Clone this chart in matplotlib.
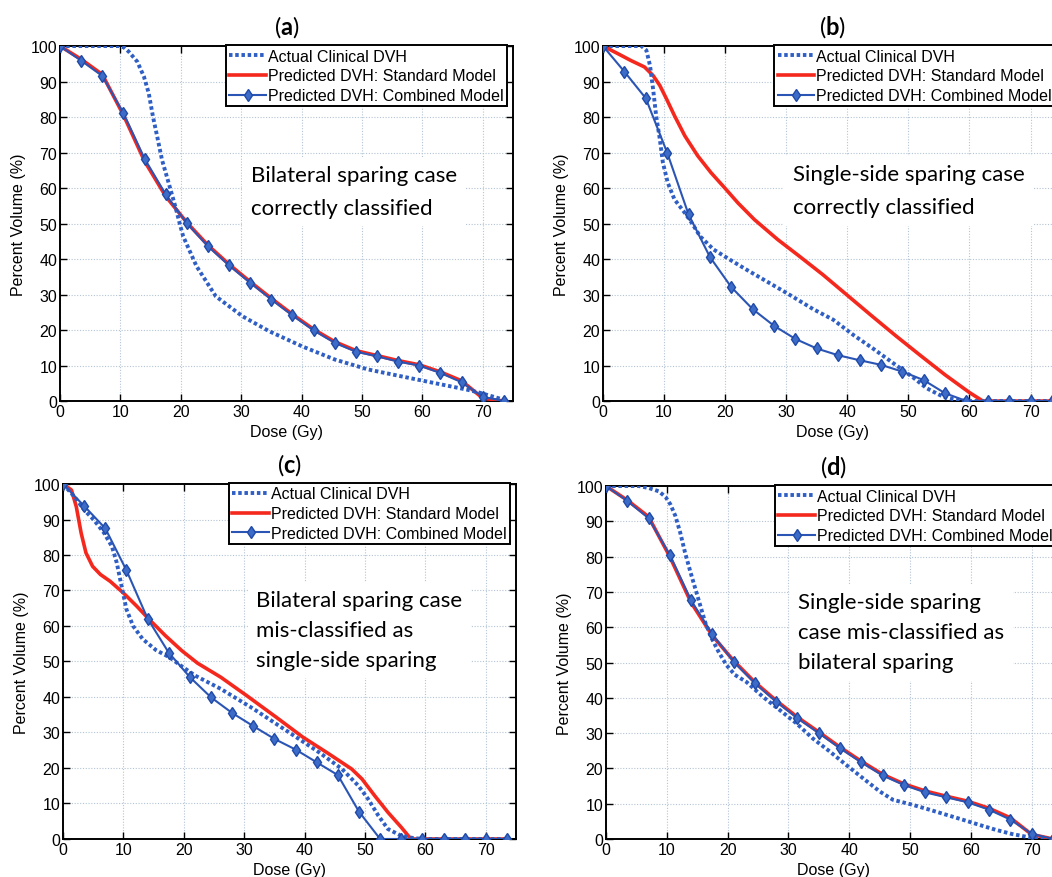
import matplotlib
matplotlib.use("Agg")
import matplotlib.pyplot as plt

plt.rcParams['font.family'] = ['Liberation Sans', 'DejaVu Sans']
plt.rcParams['mathtext.fontset'] = 'custom'
plt.rcParams['mathtext.rm'] = 'Lato'
plt.rcParams['mathtext.bf'] = 'Lato:bold'

# dose grid of the combined-model markers (Gy)
marker_dose = [0, 3.5, 7, 10.5, 14, 17.5, 21, 24.5, 28, 31.5, 35, 38.5,
               42, 45.5, 49, 52.5, 56, 59.5, 63, 66.5, 70, 73.5]

# ---- panel (a)
a_actual_dose = [0, 9.8, 10.6, 11.4, 12.8, 13.9, 14.7, 15.4, 16.1, 16.9, 18.0, 19.1, 19.9,
                 20.4, 22.6, 25.8, 30.2, 34.6, 40.1, 45.5, 51.0, 56.4, 61.9, 67.4, 69.6, 73.4]
a_actual = [100, 100, 99.6, 98.4, 95.6, 91.4, 86.7, 80.1, 74.5, 67.9, 61.4, 54.8, 49.5,
            46.4, 38.0, 29.5, 23.9, 19.7, 15.4, 11.7, 8.9, 7.0, 5.1, 3.2, 2.3, 0.4]
a_standard = [100, 96.3, 92.0, 80.6, 67.6, 57.7, 50.3, 43.9, 38.5, 33.6, 28.9, 24.4,
              20.2, 16.7, 14.2, 12.8, 11.4, 10.2, 8.2, 5.7, 0.8, 0]
a_combined = [100, 95.9, 91.6, 81.1, 68.3, 58.2, 50.1, 43.6, 38.2, 33.3, 28.6, 24.1,
              19.9, 16.4, 13.9, 12.6, 11.1, 10.0, 7.9, 5.3, 1.2, 0]

# ---- panel (b)
b_actual_dose = [0, 6.3, 7.1, 7.7, 8.2, 8.7, 9.3, 9.8, 10.6, 11.7, 13.4, 14.6, 15.9, 18.1,
                 20.8, 23.5, 26.3, 30.1, 34.4, 37.7, 41.0, 44.2, 47.5, 50.8, 53.0, 55.7,
                 57.9, 60.1, 73.5]
b_actual = [100, 100, 98.8, 94.5, 87.9, 80.4, 73.8, 67.2, 61.5, 56.8, 53.0, 50.0, 46.4, 42.7,
            39.8, 37.0, 34.2, 30.4, 25.9, 22.9, 18.6, 14.8, 10.7, 6.6, 3.6, 1.2,
            0.3, 0, 0]
b_standard_dose = [0, 2.5, 4.6, 6.8, 8.2, 9.3, 10.4, 11.7, 13.4, 15.5, 17.7, 19.9, 22.1,
                   24.8, 28.6, 32, 36, 40, 44, 48, 52, 56, 60, 62.2, 73.5]
b_standard = [100, 97.8, 95.9, 94.1, 91.7, 88.9, 85.1, 80.4, 74.7, 69.1, 64.3, 60.1, 55.8,
              51.1, 45.5, 41.0, 35.6, 29.8, 24.0, 18.3, 12.8, 7.4, 2.4, 0, 0]
b_combined = [100, 92.8, 85.3, 70.0, 52.6, 40.6, 32.1, 25.9, 21.2, 17.5, 14.8, 12.9,
              11.5, 10.2, 8.3, 5.9, 2.2, 0, 0, 0, 0, 0]

# ---- panel (c)
c_actual_dose = [0, 1.9, 3.5, 5.1, 6.8, 8.1, 8.9, 9.7, 10.5, 11.6, 13.2, 15.4, 17.6, 19.7,
                 21.9, 26.1, 31.5, 37.0, 42.4, 46.2, 48.9, 50.5, 52.2, 53.8, 56.0, 58.2,
                 59.8, 73.5]
c_actual = [100, 96.4, 92.7, 89.9, 86.2, 82.4, 77.8, 71.2, 64.7, 60.0, 56.3, 53.2, 51.2, 48.6,
            46.0, 42.3, 36.7, 30.5, 24.4, 19.7, 15.0, 11.3, 6.6, 2.8, 0.9, 0.2,
            0, 0]
c_standard_dose = [0, 1.4, 2.2, 3.0, 3.8, 4.9, 6.2, 7.8, 10.0, 12.2, 14.3, 17.0, 19.7,
                   22.3, 26.1, 30.4, 35.3, 39.7, 44.0, 47.8, 49.5, 51.6, 53.8, 56.0, 57.6, 73.5]
c_standard = [100, 98.3, 93.6, 86.2, 80.6, 76.8, 74.5, 72.6, 69.3, 65.6, 61.8, 57.2, 53.0,
              49.5, 45.6, 40.4, 34.3, 28.7, 24.0, 19.7, 16.9, 12.2, 7.5, 3.3, 0, 0]
c_combined = [100, 93.8, 87.5, 75.7, 62.1, 52.5, 45.6, 39.9, 35.5, 31.8, 28.2, 25.2,
              21.6, 18.0, 7.7, 0, 0, 0, 0, 0, 0, 0]

# ---- panel (d)
d_actual_dose = [0, 5.4, 7.1, 8.7, 9.8, 10.6, 11.4, 12.2, 13.0, 13.9, 14.7, 15.5, 16.3, 17.4,
                 18.5, 19.8, 21.2, 23.1, 25.8, 28.6, 31.3, 34.0, 36.8, 39.5, 42.2, 45.0,
                 47.2, 50.4, 53.2, 55.9, 58.6, 61.4, 64.1, 66.8, 70.1, 72.8]
d_actual = [100, 100, 99.4, 98.5, 96.9, 94.8, 91.6, 86.9, 81.2, 75.6, 70.9, 66.2, 61.5, 56.8,
            53.1, 49.3, 46.5, 44.5, 40.3, 36.5, 32.8, 28.5, 24.8, 21.0, 17.3, 13.5,
            11.1, 9.7, 8.3, 6.9, 5.5, 4.0, 2.6, 1.4, 0.3, 0]
d_standard = [100, 96.0, 91.3, 80.0, 67.0, 57.6, 50.5, 44.4, 39.2, 34.5, 30.3, 26.0,
              22.0, 18.3, 15.6, 13.6, 12.1, 10.7, 8.7, 6.0, 1.3, 0]
d_combined = [100, 95.8, 90.9, 80.5, 67.6, 58.0, 50.2, 44.1, 38.9, 34.2, 30.0, 25.7,
              21.7, 18.0, 15.3, 13.2, 11.8, 10.4, 8.3, 5.5, 1.5, 0]

panels = [
    ("a", [0.0570, 0.5421, 0.4306, 0.4043], a_actual_dose, a_actual, marker_dose, a_standard,
     a_combined, "Bilateral sparing case\ncorrectly classified", 31.6, 59.0, 1.8),
    ("b", [0.5732, 0.5421, 0.4354, 0.4043], b_actual_dose, b_actual, b_standard_dose, b_standard,
     b_combined, "Single-side sparing case\ncorrectly classified", 31.1, 59.2, 1.8),
    ("c", [0.0599, 0.0433, 0.4306, 0.4043], c_actual_dose, c_actual, c_standard_dose, c_standard,
     c_combined, "Bilateral sparing case\nmis-classified as\nsingle-side sparing", 32.0, 58.9, 1.62),
    ("d", [0.5760, 0.0433, 0.4335, 0.4020], d_actual_dose, d_actual, marker_dose, d_standard,
     d_combined, "Single-side sparing\ncase mis-classified as\nbilateral sparing", 31.6, 58.6, 1.62),
]

fig = plt.figure(figsize=(10.52, 8.78), dpi=100)

for letter, pos, act_x, act_y, std_x, std_y, comb_y, note, note_x, note_y, spacing in panels:
    ax = fig.add_axes(pos)
    ax.set_axisbelow(True)
    ax.plot(std_x, std_y, color='#f5281e', lw=2.6, label='Predicted DVH: Standard Model', zorder=3)
    ax.plot(marker_dose, comb_y, color='#2b55b5', lw=1.5, marker='d', ms=6.5,
            mfc='#3d6bc8', mec='#1f4aa8', label='Predicted DVH: Combined Model', zorder=4)
    ax.plot(act_x, act_y, color='#2f5fc4', lw=2.8, linestyle=(0, (0.9, 0.7)),
            label='Actual Clinical DVH', zorder=3.5)

    ax.set_xlim(0, 75)
    ax.set_ylim(0, 100)
    ax.set_xticks(range(0, 80, 10))
    ax.set_yticks(range(0, 110, 10))
    ax.tick_params(direction='in', top=True, right=True, length=5, width=1,
                   labelsize=11.5, pad=2)
    ax.grid(True, linestyle=(0, (1, 1.5)), color='#b4c4d4', lw=0.8)
    for s in ax.spines.values():
        s.set_linewidth(1.4)
    ax.set_xlabel("Dose (Gy)", fontsize=11.5, labelpad=4)
    ax.set_ylabel("Percent Volume (%)", fontsize=11.5, labelpad=3)
    ax.set_title(r"($\mathbf{" + letter + "}$)", fontsize=17, family='Lato', pad=9)

    ax.text(note_x, note_y, note, fontsize=16, family='Lato', ha='left', va='center',
            linespacing=spacing, zorder=2.5,
            bbox=dict(facecolor='white', edgecolor='none', pad=6))

    h, l = ax.get_legend_handles_labels()
    order = [2, 0, 1]
    leg = ax.legend([h[i] for i in order], [l[i] for i in order], loc='upper right',
                    bbox_to_anchor=(1.0, 1.02), borderaxespad=0.4, fontsize=11.5,
                    fancybox=False, framealpha=1, edgecolor='black', handlelength=2.3,
                    handletextpad=0.1, labelspacing=0.3, borderpad=0.2)
    leg.get_frame().set_linewidth(1.4)
    leg.set_zorder(6)

fig.savefig("out.png", dpi=100, facecolor='white')
